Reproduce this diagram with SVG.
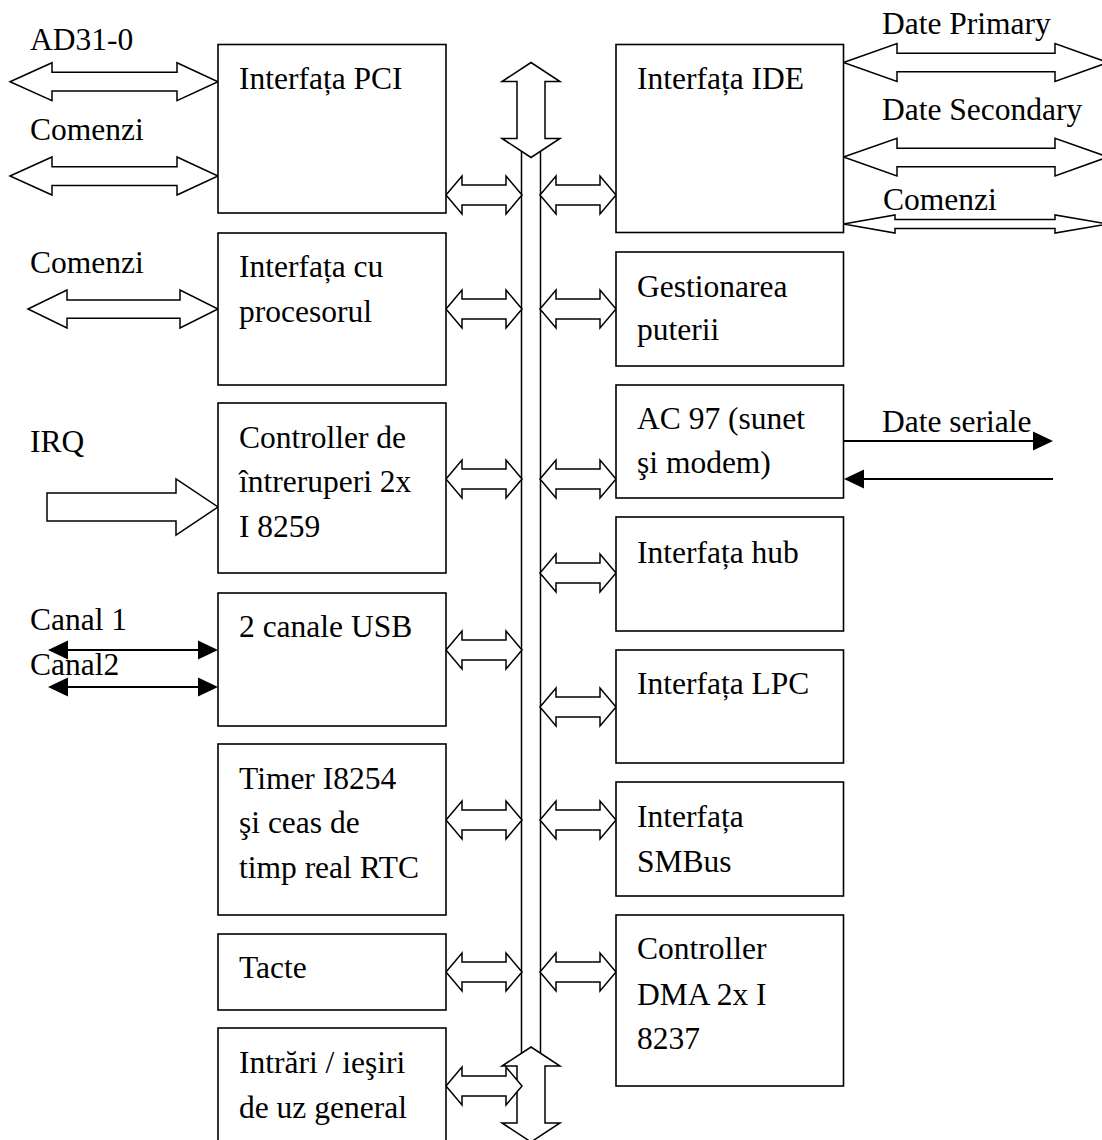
<svg xmlns="http://www.w3.org/2000/svg" width="1102" height="1140" viewBox="0 0 1102 1140">
<defs>
<style>
.box{fill:#fff;stroke:#000;stroke-width:1.6}
.ar{fill:#fff;stroke:#000;stroke-width:1.5;stroke-linejoin:miter}
.ln{fill:none;stroke:#000;stroke-width:1.8}
.hd{fill:#000;stroke:none}
text{font-family:"Liberation Serif","Times New Roman",serif;font-size:31.5px;fill:#000}
</style>
</defs>
<rect width="1102" height="1140" fill="#fff"/>
<g id="connectors">
<line class="ln" x1="521.5" y1="140" x2="521.5" y2="1066" style="stroke-width:1.5"/>
<line class="ln" x1="540.5" y1="140" x2="540.5" y2="1066" style="stroke-width:1.5"/>
<polygon class="ar" points="531,62.5 560,81.5 545,81.5 545,138.5 560,138.5 531,157.5 502,138.5 517,138.5 517,81.5 502,81.5"/>
<polygon class="ar" points="531,1047 560,1066 545,1066 545,1123 560,1123 531,1142 502,1123 517,1123 517,1066 502,1066"/>
<polygon class="ar" points="446,195 462,176 462,185 506,185 506,176 522,195 506,214 506,205 462,205 462,214"/>
<polygon class="ar" points="446,309 462,290 462,299 506,299 506,290 522,309 506,328 506,319 462,319 462,328"/>
<polygon class="ar" points="446,479 462,460 462,469 506,469 506,460 522,479 506,498 506,489 462,489 462,498"/>
<polygon class="ar" points="446,650 462,631 462,640 506,640 506,631 522,650 506,669 506,660 462,660 462,669"/>
<polygon class="ar" points="446,820 462,801 462,810 506,810 506,801 522,820 506,839 506,830 462,830 462,839"/>
<polygon class="ar" points="446,972 462,953 462,962 506,962 506,953 522,972 506,991 506,982 462,982 462,991"/>
<polygon class="ar" points="446,1086 462,1067 462,1076 506,1076 506,1067 522,1086 506,1105 506,1096 462,1096 462,1105"/>
<polygon class="ar" points="540,195 556,176 556,185 600,185 600,176 616,195 600,214 600,205 556,205 556,214"/>
<polygon class="ar" points="540,309 556,290 556,299 600,299 600,290 616,309 600,328 600,319 556,319 556,328"/>
<polygon class="ar" points="540,479 556,460 556,469 600,469 600,460 616,479 600,498 600,489 556,489 556,498"/>
<polygon class="ar" points="540,573 556,554 556,563 600,563 600,554 616,573 600,592 600,583 556,583 556,592"/>
<polygon class="ar" points="540,707 556,688 556,697 600,697 600,688 616,707 600,726 600,717 556,717 556,726"/>
<polygon class="ar" points="540,820 556,801 556,810 600,810 600,801 616,820 600,839 600,830 556,830 556,839"/>
<polygon class="ar" points="540,972 556,953 556,962 600,962 600,953 616,972 600,991 600,982 556,982 556,991"/>
<polygon class="ar" points="10,81.7 52,62.7 52,72.3 177,72.3 177,62.7 218,81.7 177,100.7 177,91 52,91 52,100.7"/>
<polygon class="ar" points="10,176 52,157 52,166.7 177,166.7 177,157 218,176 177,195 177,185.5 52,185.5 52,195"/>
<polygon class="ar" points="28,309 67,290 67,300 180,300 180,290 218,309 180,328 180,318.3 67,318.3 67,328"/>
<polygon class="ar" points="47,493 176,493 176,479 218,507 176,535 176,521 47,521"/>
<line class="ln" x1="64" y1="650" x2="202" y2="650"/>
<polygon class="hd" points="48,650 68,640.5 68,659.5"/>
<polygon class="hd" points="218,650 198,640.5 198,659.5"/>
<line class="ln" x1="64" y1="687" x2="202" y2="687"/>
<polygon class="hd" points="48,687 68,677.5 68,696.5"/>
<polygon class="hd" points="218,687 198,677.5 198,696.5"/>
<polygon class="ar" points="843.5,62.5 897,43.5 897,53.3 1055,53.3 1055,43.5 1108,62.5 1055,81.5 1055,71.7 897,71.7 897,81.5"/>
<polygon class="ar" points="843.5,157 897,138.3 897,148.3 1055,148.3 1055,138.3 1108,157 1055,176 1055,166.7 897,166.7 897,176"/>
<polygon class="ar" points="843.5,224 895,215 895,219.5 1055,219.5 1055,215 1108,224 1055,233 1055,228.5 895,228.5 895,233"/>
<line class="ln" x1="843" y1="441" x2="1036" y2="441"/>
<polygon class="hd" points="1053,441 1033,431.5 1033,450.5"/>
<line class="ln" x1="860" y1="479" x2="1053" y2="479"/>
<polygon class="hd" points="844,479 864,469.5 864,488.5"/>
</g>
<g id="labels">
<text x="30" y="50">AD31-0</text>
<text x="30" y="140">Comenzi</text>
<text x="30" y="273">Comenzi</text>
<text x="30" y="452">IRQ</text>
<text x="30" y="630">Canal 1</text>
<text x="30" y="675">Canal2</text>
<text x="882" y="34">Date Primary</text>
<text x="882" y="120">Date Secondary</text>
<text x="883" y="210">Comenzi</text>
<text x="882" y="432">Date seriale</text>
</g>
<g id="node-pci"><rect class="box" x="218" y="44.5" width="228" height="168.5"/><text x="239" y="89">Interfața PCI</text></g>
<g id="node-proc"><rect class="box" x="218" y="233" width="228" height="152"/><text x="239" y="277">Interfața cu</text><text x="239" y="322">procesorul</text></g>
<g id="node-irq"><rect class="box" x="218" y="403" width="228" height="170"/><text x="239" y="448">Controller de</text><text x="239" y="492">întreruperi 2x</text><text x="239" y="537">I 8259</text></g>
<g id="node-usb"><rect class="box" x="218" y="593" width="228" height="133"/><text x="239" y="637">2 canale USB</text></g>
<g id="node-timer"><rect class="box" x="218" y="744" width="228" height="171"/><text x="239" y="789">Timer I8254</text><text x="239" y="833">şi ceas de</text><text x="239" y="878">timp real RTC</text></g>
<g id="node-tacte"><rect class="box" x="218" y="934" width="228" height="76"/><text x="239" y="978">Tacte</text></g>
<g id="node-io"><rect class="box" x="218" y="1028" width="228" height="130"/><text x="239" y="1073">Intrări / ieşiri</text><text x="239" y="1118">de uz general</text></g>
<g id="node-ide"><rect class="box" x="616" y="44.5" width="227.5" height="188"/><text x="637" y="89">Interfața IDE</text></g>
<g id="node-power"><rect class="box" x="616" y="252" width="227.5" height="114"/><text x="637" y="297">Gestionarea</text><text x="637" y="340">puterii</text></g>
<g id="node-ac97"><rect class="box" x="616" y="385" width="227.5" height="113"/><text x="637" y="429">AC 97 (sunet</text><text x="637" y="473">şi modem)</text></g>
<g id="node-hub"><rect class="box" x="616" y="517" width="227.5" height="114"/><text x="637" y="563">Interfața hub</text></g>
<g id="node-lpc"><rect class="box" x="616" y="650" width="227.5" height="113"/><text x="637" y="694">Interfața LPC</text></g>
<g id="node-smbus"><rect class="box" x="616" y="782" width="227.5" height="114"/><text x="637" y="827">Interfața</text><text x="637" y="872">SMBus</text></g>
<g id="node-dma"><rect class="box" x="616" y="915" width="227.5" height="171"/><text x="637" y="959">Controller</text><text x="637" y="1005">DMA 2x I</text><text x="637" y="1049">8237</text></g>
</svg>
